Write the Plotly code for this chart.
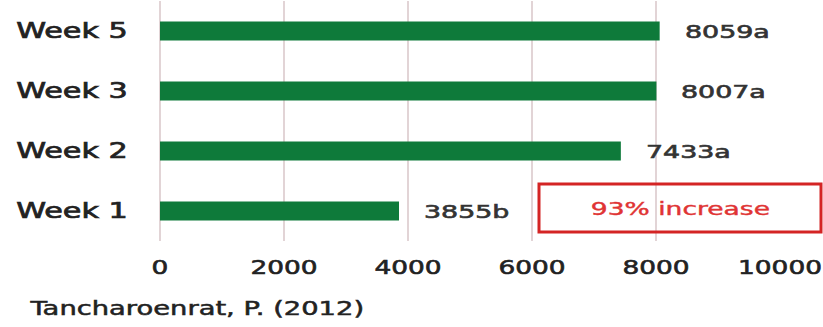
import plotly.graph_objects as go

# Weekly values and significance letters
weeks = ["Week 1", "Week 2", "Week 3", "Week 5"]
values = [3855, 7433, 8007, 8059]
letters = ["b", "a", "a", "a"]
x_ticks = [0, 2000, 4000, 6000, 8000, 10000]
x_ticktext = ["0", "2000", "4000", "6000", "8000", "10000"]
source = "Tancharoenrat, P. (2012)"
callout = "93% increase"

FONT = "DejaVu Sans"
GREEN = "#0e7a3a"
GRID = "#e2d4d6"

fig = go.Figure(
    go.Bar(
        x=values,
        y=weeks,
        orientation="h",
        width=0.32,
        marker=dict(color=GREEN, line=dict(width=0)),
        hoverinfo="skip",
    )
)

# value labels to the right of each bar
for w, v, l in zip(weeks, values, letters):
    fig.add_annotation(
        x=v, y=w, text=f"{v}{l}", showarrow=False, align="left",
        xanchor="left", yanchor="middle", xshift=23, yshift=-1,
        font=dict(family=FONT, size=17, color="#333333"),
    )

# callout box
fig.add_shape(
    type="rect", xref="paper", yref="paper",
    x0=(539 - 160) / 620, x1=(821 - 160) / 620,
    y0=(241 - 232) / 240, y1=(241 - 184) / 240,
    line=dict(color="#d42424", width=3), fillcolor="rgba(0,0,0,0)",
)
fig.add_annotation(
    xref="paper", yref="paper",
    x=(680 - 160) / 620, y=(241 - 209) / 240,
    text=callout, showarrow=False, xanchor="center", yanchor="middle",
    font=dict(family=FONT, size=17, color="#e03434"),
)

# source line
fig.add_annotation(
    xref="paper", yref="paper", align="left",
    x=(27 - 160) / 620, y=(241 - 308) / 240,
    text=source, showarrow=False, xanchor="left", yanchor="middle",
    font=dict(family=FONT, size=19, color="#222222"),
)

fig.update_layout(
    width=823, height=327,
    margin=dict(l=160, r=43, t=1, b=86),
    paper_bgcolor="white", plot_bgcolor="white",
    showlegend=False,
    xaxis=dict(
        range=[0, 10000], tickvals=x_ticks, ticktext=x_ticktext,
        showgrid=True, gridcolor=GRID, gridwidth=1.5,
        zeroline=True, zerolinecolor=GRID, zerolinewidth=1.5,
        showline=False,
        ticks="outside", ticklen=8, tickcolor="rgba(0,0,0,0)",
        tickfont=dict(family=FONT, size=20, color="#222222"),
    ),
    yaxis=dict(
        categoryorder="array", categoryarray=weeks,
        range=[-0.5, 3.5],
        showgrid=False, zeroline=False, showline=False,
        ticks="outside", ticklen=27, tickcolor="rgba(0,0,0,0)",
        tickfont=dict(family=FONT, size=21, color="#222222"),
    ),
)

# wide, slightly heavy lettering, scaled about each text's anchor
stretch_js = """
var gd = document.getElementById('{plot_id}');
function stretch(t, s, w) {
  var b = t.getBBox();
  var a = t.getAttribute('text-anchor') || window.getComputedStyle(t).textAnchor || 'start';
  var cx = a === 'end' ? b.x + b.width : (a === 'middle' ? b.x + b.width / 2 : b.x);
  var tr = t.getAttribute('transform') || '';
  t.setAttribute('transform', tr + ' translate(' + cx + ',0) scale(' + s + ',1) translate(' + (-cx) + ',0)');
  var c = window.getComputedStyle(t).fill;
  t.style.stroke = c;
  t.style.strokeWidth = w + 'px';
}
gd.querySelectorAll('.ytick text').forEach(function(t){ stretch(t, 1.44, 0.7); });
gd.querySelectorAll('.xtick text').forEach(function(t){ stretch(t, 1.32, 0.6); });
gd.querySelectorAll('.annotation-text').forEach(function(t){
  var s = t.textContent;
  if (/^[0-9]+[a-z]$/.test(s)) { stretch(t, 1.58, 0.6); }
  else if (s.indexOf('%') >= 0) { stretch(t, 1.56, 0.4); }
  else { stretch(t, 1.44, 0.5); }
});
"""

fig.write_html("out.html", post_script=stretch_js)
